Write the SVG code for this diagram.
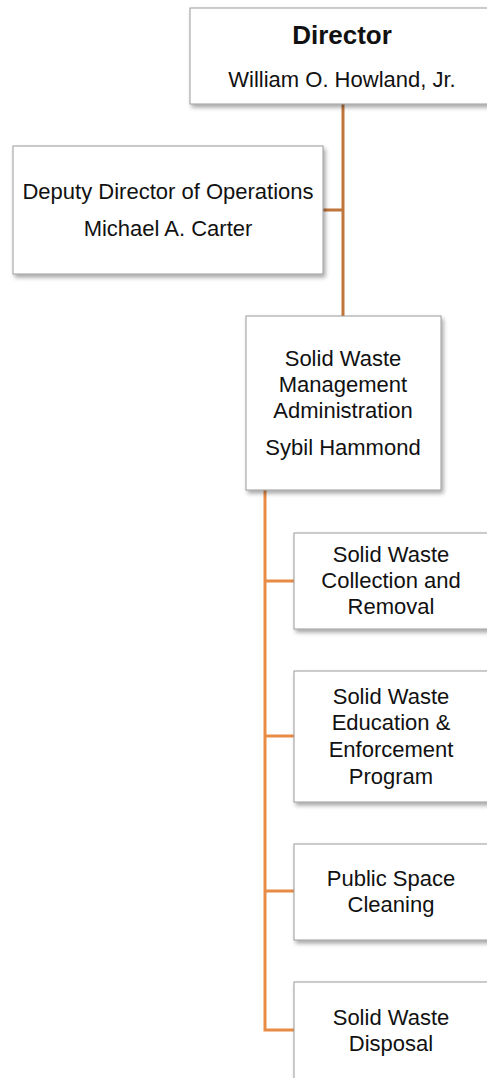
<svg xmlns="http://www.w3.org/2000/svg" width="487" height="1078" viewBox="0 0 487 1078">
<defs>
<filter id="sh" x="-10%" y="-10%" width="130%" height="130%">
<feDropShadow dx="2" dy="3" stdDeviation="2" flood-color="#000" flood-opacity="0.35"/>
</filter>
<style>
.box{fill:#fff;stroke:#9a9a9a;stroke-width:1;filter:url(#sh)}
text{font-family:"Liberation Sans",Arial,sans-serif;font-size:22px;fill:#111;text-anchor:middle}
.b{font-weight:bold;font-size:26px}
.c1{stroke:#c0753a;stroke-width:3;fill:none}
.c2{stroke:#e88b45;stroke-width:3;fill:none}
</style>
</defs>
<rect width="487" height="1078" fill="#fff"/>
<g id="connectors">
<path class="c1" d="M343 104V316M323 210H343"/>
<path class="c2" d="M265 490V1030H294M265 581H294M265 736H294M265 891H294"/>
</g>
<g id="director">
<rect class="box" x="190" y="8" width="310" height="96"/>
<text class="b" x="342" y="44">Director</text>
<text x="342" y="87">William O. Howland, Jr.</text>
</g>
<g id="deputy">
<rect class="box" x="13" y="146" width="310" height="128"/>
<text x="168" y="199">Deputy Director of Operations</text>
<text x="168" y="236">Michael A. Carter</text>
</g>
<g id="swma">
<rect class="box" x="246" y="316" width="195" height="174"/>
<text x="343" y="366">Solid Waste</text>
<text x="343" y="392">Management</text>
<text x="343" y="418">Administration</text>
<text x="343" y="455">Sybil Hammond</text>
</g>
<g id="collection">
<rect class="box" x="294" y="533" width="210" height="96"/>
<text x="391" y="562">Solid Waste</text>
<text x="391" y="588">Collection and</text>
<text x="391" y="614">Removal</text>
</g>
<g id="education">
<rect class="box" x="294" y="671" width="210" height="131"/>
<text x="391" y="704">Solid Waste</text>
<text x="391" y="730">Education &amp;</text>
<text x="391" y="757">Enforcement</text>
<text x="391" y="784">Program</text>
</g>
<g id="publicspace">
<rect class="box" x="294" y="844" width="210" height="96"/>
<text x="391" y="886">Public Space</text>
<text x="391" y="912">Cleaning</text>
</g>
<g id="disposal">
<rect class="box" x="294" y="982" width="210" height="110"/>
<text x="391" y="1025">Solid Waste</text>
<text x="391" y="1051">Disposal</text>
</g>
</svg>
